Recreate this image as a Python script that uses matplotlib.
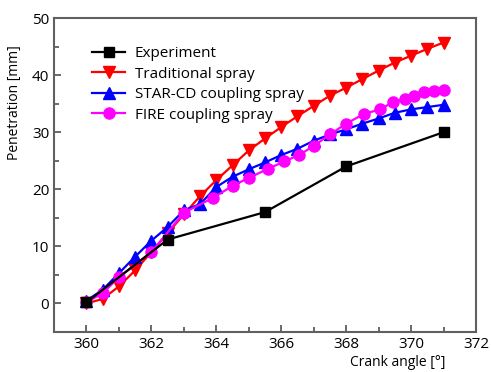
import numpy as np
import matplotlib
matplotlib.use('Agg')
from matplotlib import pyplot as plt
from matplotlib.ticker import MultipleLocator

plt.rcParams['font.family'] = ['Open Sans', 'DejaVu Sans']

# experiment
exp_x = [360, 362.5, 365.5, 368, 371]
exp_y = [0.2, 11.2, 16.0, 24.0, 30.0]

# traditional spray
trad_x = [360, 360.5, 361, 361.5, 362, 362.5, 363, 363.5, 364, 364.5, 365, 365.5,
          366, 366.5, 367, 367.5, 368, 368.5, 369, 369.5, 370, 370.5, 371]
trad_y = [0.0, 0.8, 3.0, 5.8, 9.0, 12.3, 15.6, 18.8, 21.6, 24.2, 26.8, 28.9,
          30.9, 32.8, 34.6, 36.4, 37.8, 39.3, 40.8, 42.2, 43.4, 44.6, 45.7]

# STAR-CD coupling spray
star_x = list(trad_x)
star_y = [0.5, 2.4, 5.3, 8.2, 11.0, 13.4, 16.3, 17.4, 20.4, 22.2, 23.5, 24.7,
          26.0, 27.1, 28.5, 29.6, 30.5, 31.5, 32.4, 33.4, 34.0, 34.4, 34.8]

# FIRE coupling spray
fire_x = [360, 360.5, 361, 362, 363, 363.9, 364.5, 365, 365.6, 366.1, 366.55,
          367, 367.5, 368, 368.55, 369.05, 369.45, 369.8, 370.1, 370.4, 370.7, 371]
fire_y = [0.2, 1.8, 4.6, 9.0, 15.9, 18.5, 20.6, 22.0, 23.6, 24.9, 26.0,
          27.6, 29.6, 31.5, 33.2, 34.0, 35.3, 35.8, 36.4, 37.0, 37.3, 37.4]

fig = plt.figure(figsize=(4.91, 3.72), dpi=100)
ax = fig.add_axes([0.110, 0.1075, 0.8595, 0.8441])

ax.plot(exp_x, exp_y, color='black', lw=1.6, marker='s', ms=6.5,
        label='Experiment', zorder=5)
ax.plot(trad_x, trad_y, color='#ff0000', lw=1.6, marker='v', ms=8,
        label='Traditional spray', zorder=3)
ax.plot(star_x, star_y, color='#0000ff', lw=1.6, marker='^', ms=8,
        label='STAR-CD coupling spray', zorder=4)
ax.plot(fire_x, fire_y, color='#ff00ff', lw=1.6, marker='o', ms=8,
        label='FIRE coupling spray', zorder=4)

ax.set_xlim(359, 372)
ax.set_ylim(-5, 50)
ax.xaxis.set_major_locator(MultipleLocator(2))
ax.xaxis.set_minor_locator(MultipleLocator(1))
ax.yaxis.set_major_locator(MultipleLocator(10))
ax.yaxis.set_minor_locator(MultipleLocator(5))
ax.tick_params(which='both', direction='in', top=False, right=False,
               labelsize=11, color='#505050')
ax.tick_params(which='major', length=5, width=1.2)
ax.tick_params(which='minor', length=3.5, width=1.2)
for s in ax.spines.values():
    s.set_color('#606060')
    s.set_linewidth(1.5)

ax.set_xlabel('Crank angle [°]', fontsize=10, x=0.815, labelpad=2)
ax.set_ylabel('Penetration [mm]', fontsize=10)
ax.yaxis.set_label_coords(-0.075, 0.73)

ax.legend(loc='upper left', bbox_to_anchor=(0.075, 0.93), frameon=False,
          fontsize=11, handlelength=2.2, handletextpad=0.6,
          labelspacing=0.36, borderaxespad=0.0)

fig.savefig('out.png', dpi=100)
